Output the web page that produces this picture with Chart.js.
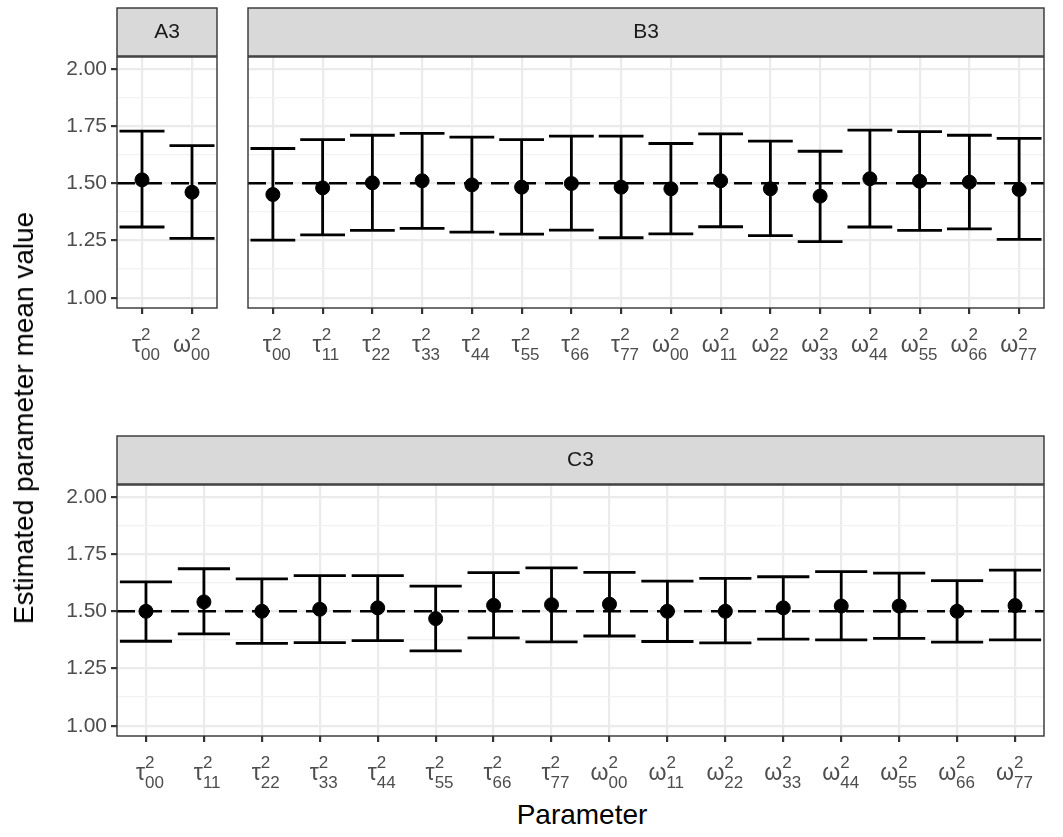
<!DOCTYPE html>
<html>
<head>
<meta charset="utf-8">
<script src="https://cdn.jsdelivr.net/npm/chart.js@4"></script>
<style>
  body { margin: 0; background: #fff; font-family: "Liberation Sans", Arial, sans-serif; }
  canvas { position: absolute; }
  .lab { position: absolute; color: #000; font-size: 28px; }
</style>
</head>
<body>
<canvas id="cA" width="225" height="370" style="left:0;top:0"></canvas>
<canvas id="cB" width="838" height="370" style="left:225px;top:0"></canvas>
<canvas id="cC" width="1063" height="370" style="left:0;top:428px"></canvas>
<div class="lab" style="left:24px;top:418px;transform:translate(-50%,-50%) rotate(-90deg);white-space:nowrap">Estimated parameter mean value</div>
<div class="lab" style="left:582px;top:815px;transform:translate(-50%,-50%)">Parameter</div>
<script>
// Data for the chart
var paramsA = ["τ00", "ω00"];
var params = ["τ00","τ11","τ22","τ33","τ44","τ55","τ66","τ77","ω00","ω11","ω22","ω33","ω44","ω55","ω66","ω77"];

var meanA = [1.515, 1.461];
var lowA  = [1.309, 1.259];
var highA = [1.728, 1.665];

var meanB = [1.451,1.480,1.502,1.511,1.493,1.483,1.499,1.483,1.476,1.511,1.476,1.444,1.520,1.509,1.505,1.473];
var lowB  = [1.252,1.275,1.294,1.303,1.287,1.278,1.295,1.262,1.279,1.310,1.271,1.245,1.309,1.294,1.301,1.255];
var highB = [1.652,1.691,1.710,1.718,1.702,1.691,1.706,1.706,1.674,1.716,1.684,1.640,1.732,1.726,1.710,1.696];

var meanC = [1.500,1.541,1.500,1.509,1.515,1.468,1.526,1.529,1.531,1.500,1.500,1.515,1.523,1.523,1.500,1.525];
var lowC  = [1.369,1.401,1.360,1.363,1.372,1.327,1.384,1.366,1.392,1.368,1.362,1.378,1.375,1.382,1.365,1.375];
var highC = [1.629,1.686,1.642,1.656,1.656,1.610,1.669,1.690,1.670,1.632,1.644,1.651,1.673,1.667,1.634,1.680];

var refLine = 1.5;

function isMajor(v) { return Math.abs(v * 4 - Math.round(v * 4)) < 1e-6; }

// panel strip, border, error bars, reference line, parameter labels
var panelPlugin = {
  id: 'panel',
  beforeDatasetsDraw: function (chart, args, opts) {
    var c = chart.ctx, a = chart.chartArea, x = chart.scales.x, y = chart.scales.y;
    c.save();
    c.strokeStyle = '#000'; c.lineWidth = 2.6; c.setLineDash([18, 9]);
    c.beginPath();
    c.moveTo(a.left, y.getPixelForValue(refLine));
    c.lineTo(a.right, y.getPixelForValue(refLine));
    c.stroke();
    c.setLineDash([]);
    c.lineWidth = 2.8;
    var half = 0.45 * (x.getPixelForValue(1) - x.getPixelForValue(0) || 98);
    opts.low.forEach(function (lo, i) {
      var px = x.getPixelForValue(i), y0 = y.getPixelForValue(lo), y1 = y.getPixelForValue(opts.high[i]);
      c.beginPath();
      c.moveTo(px, y0); c.lineTo(px, y1);
      c.moveTo(px - half, y0); c.lineTo(px + half, y0);
      c.moveTo(px - half, y1); c.lineTo(px + half, y1);
      c.stroke();
    });
    c.restore();
  },
  afterDraw: function (chart, args, opts) {
    var c = chart.ctx, a = chart.chartArea, x = chart.scales.x;
    c.save();
    c.fillStyle = '#d9d9d9'; c.strokeStyle = '#333'; c.lineWidth = 1.4;
    c.fillRect(a.left, 8, a.right - a.left, a.top - 9);
    c.strokeRect(a.left, 8, a.right - a.left, a.top - 9);
    c.fillStyle = '#1a1a1a'; c.font = '21px "Liberation Sans", Arial'; c.textAlign = 'center'; c.textBaseline = 'middle';
    c.fillText(opts.title, (a.left + a.right) / 2, (8 + a.top) / 2);
    c.strokeRect(a.left, a.top, a.right - a.left, a.bottom - a.top);
    c.fillStyle = '#4d4d4d';
    opts.labels.forEach(function (lb, i) {
      var px = x.getPixelForValue(i);
      c.font = '23px "Liberation Sans", Arial'; c.textAlign = 'right'; c.textBaseline = 'alphabetic';
      c.fillText(lb[0], px - 1, a.bottom + 44);
      c.font = '17px "Liberation Sans", Arial'; c.textAlign = 'left';
      c.fillText('2', px - 1, a.bottom + 32);
      c.fillText(lb.slice(1), px - 1, a.bottom + 52);
    });
    c.restore();
  }
};

function makeChart(id, title, labels, mean, low, high, showY, yWidth, padRight) {
  return new Chart(document.getElementById(id), {
    type: 'scatter',
    data: {
      labels: labels,
      datasets: [{ data: mean, backgroundColor: '#000', borderColor: '#000', pointRadius: 7 }]
    },
    options: {
      responsive: false,
      animation: false,
      layout: { padding: { top: 57, right: padRight, left: 0, bottom: 0 } },
      plugins: {
        legend: { display: false },
        tooltip: { enabled: false },
        panel: { title: title, labels: labels, low: low, high: high }
      },
      scales: {
        x: {
          type: 'category', offset: true,
          border: { display: false },
          grid: { color: '#ebebeb', lineWidth: 2.2, offset: false, tickColor: '#333', tickLength: 6 },
          ticks: { display: false },
          afterFit: function (s) { s.height = 62; }
        },
        y: {
          min: 0.955, max: 2.052,
          border: { display: false },
          afterBuildTicks: function (s) {
            var t = [];
            for (var v = 1; v <= 2.0001; v += 0.125) t.push({ value: v });
            s.ticks = t;
          },
          grid: {
            color: function (ctx) { return isMajor(ctx.tick.value) ? '#ebebeb' : '#f2f2f2'; },
            lineWidth: function (ctx) { return isMajor(ctx.tick.value) ? 2.2 : 1.3; },
            tickColor: function (ctx) { return showY && isMajor(ctx.tick.value) ? '#333' : 'rgba(0,0,0,0)'; },
            tickLength: 6
          },
          ticks: {
            display: showY, color: '#4d4d4d', font: { size: 21, family: '"Liberation Sans", Arial' },
            padding: 4, autoSkip: false,
            callback: function (v) { return isMajor(v) ? v.toFixed(2) : ''; }
          },
          afterFit: function (s) { s.width = yWidth; }
        }
      }
    },
    plugins: [panelPlugin]
  });
}

makeChart('cA', 'A3', paramsA, meanA, lowA, highA, true, 117, 3);
makeChart('cB', 'B3', params, meanB, lowB, highB, false, 23, 19);
makeChart('cC', 'C3', params, meanC, lowC, highC, true, 117, 19);
</script>
</body>
</html>
